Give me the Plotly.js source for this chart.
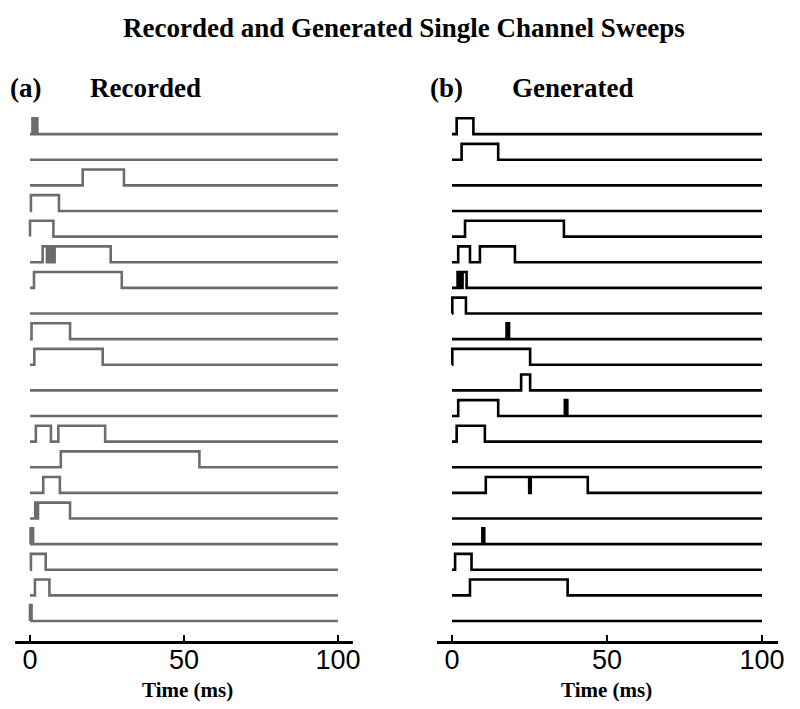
<!DOCTYPE html>
<html>
<head>
<meta charset="utf-8">
<script src="https://cdn.plot.ly/plotly-3.0.1.min.js"></script>
<style>html,body{margin:0;padding:0;background:#fff}#chart{width:800px;height:709px}</style>
</head>
<body>
<div id="chart"></div>
<script>
// Transition times (ms) for each sweep: alternating open, close, open, close ...
const recordedEvents = [
  [0.8, 1.3, 1.6, 2.4],
  [],
  [17.1, 30.5],
  [0.3, 9.4],
  [0, 7.6],
  [4.1, 5.5, 6.0, 6.6, 7.2, 7.6, 8.0, 26.2],
  [1.3, 29.8],
  [],
  [0.5, 13.0],
  [1.4, 23.6],
  [],
  [],
  [1.9, 6.8, 9.2, 24.4],
  [10.0, 55.0],
  [4.3, 9.7],
  [1.7, 2.2, 2.6, 13.0],
  [0.2, 1.0],
  [0.3, 5.1],
  [1.6, 6.3],
  [0, 0.5]
];
const generatedEvents = [
  [1.5, 6.9],
  [3.1, 14.9],
  [],
  [],
  [4.2, 36.1],
  [2.0, 5.8, 9.0, 20.3],
  [1.8, 2.3, 2.6, 3.1, 3.4, 4.7],
  [0.1, 4.5],
  [17.6, 18.4],
  [0.1, 25.2],
  [22.3, 25.2],
  [2.0, 14.9, 36.4, 37.2],
  [1.5, 10.6],
  [],
  [10.9, 24.9, 25.4, 43.8],
  [],
  [9.8, 10.4],
  [1.0, 6.3],
  [5.8, 37.3],
  []
];
const sweepStart = 0;
const sweepEnd = 100;
const openLevel = 0.62;
const xTicks = [0, 50, 100];
const xTickText = ['0', '50', '100'];
const panelLabels = ['(a)', '(b)'];
const panelTitles = ['Recorded', 'Generated'];
const mainTitle = 'Recorded and Generated Single Channel Sweeps';
const xTitle = 'Time (ms)';

function buildTrace(events) {
  const xs = [], ys = [];
  const n = events.length;
  events.forEach((ev, i) => {
    const base = (n - 1) - i;
    let level = base;
    xs.push(sweepStart); ys.push(base);
    ev.forEach((t, k) => {
      level = (k % 2 === 0) ? base + openLevel : base;
      xs.push(t); ys.push(level);
    });
    xs.push(sweepEnd); ys.push(level);
    xs.push(null); ys.push(null);
  });
  return {x: xs, y: ys};
}

const rec = buildTrace(recordedEvents);
const gen = buildTrace(generatedEvents);

const traces = [
  {x: rec.x, y: rec.y, xaxis: 'x', yaxis: 'y', mode: 'lines', line: {shape: 'hv', color: '#6c6c6c', width: 2.6}, connectgaps: false, hoverinfo: 'skip'},
  {x: gen.x, y: gen.y, xaxis: 'x2', yaxis: 'y2', mode: 'lines', line: {shape: 'hv', color: '#000000', width: 2.6}, connectgaps: false, hoverinfo: 'skip'}
];

const serif = 'Liberation Serif, Times New Roman, serif';
const sans = 'Liberation Sans, Arial, sans-serif';

const xaxisBase = {
  range: [-5, 105],
  tickvals: xTicks,
  ticktext: xTickText,
  ticks: 'inside',
  ticklen: 6,
  tickwidth: 2,
  tickcolor: '#000',
  showline: true,
  linewidth: 2.5,
  linecolor: '#000',
  showgrid: false,
  zeroline: false,
  ticklabelstandoff: -7,
  tickfont: {family: sans, size: 27, color: '#000'},
  automargin: false,
  fixedrange: true
};
const yaxisBase = {
  range: [-0.78, 19.94],
  visible: false,
  fixedrange: true
};

const W = 800;
const plotTop = 110, plotBottom = 641;
function py(pix) { return (plotBottom - pix) / (plotBottom - plotTop); }
const labelFont = {family: serif, size: 27, color: '#000', weight: 'bold'};
const axTitleFont = {family: serif, size: 21, color: '#000', weight: 'bold'};

const layout = {
  width: 800,
  height: 709,
  margin: {l: 0, r: 0, t: plotTop, b: 709 - plotBottom},
  paper_bgcolor: '#fff',
  plot_bgcolor: '#fff',
  showlegend: false,
  title: {text: mainTitle, font: {family: serif, size: 27, color: '#000', weight: 'bold'}, x: 0.505, xanchor: 'center', yref: 'container', y: 1 - 28 / 709, yanchor: 'middle'},
  xaxis: Object.assign({}, xaxisBase, {domain: [14.6 / W, 353.4 / W], anchor: 'y'}),
  xaxis2: Object.assign({}, xaxisBase, {domain: [436.5 / W, 777.5 / W], anchor: 'y2'}),
  yaxis: Object.assign({}, yaxisBase, {anchor: 'x'}),
  yaxis2: Object.assign({}, yaxisBase, {anchor: 'x2'}),
  annotations: [
    {text: panelLabels[0], x: 25 / W, y: py(88), xref: 'paper', yref: 'paper', showarrow: false, xanchor: 'center', yanchor: 'middle', font: labelFont},
    {text: panelTitles[0], x: 145 / W, y: py(88), xref: 'paper', yref: 'paper', showarrow: false, xanchor: 'center', yanchor: 'middle', font: labelFont},
    {text: panelLabels[1], x: 446 / W, y: py(88), xref: 'paper', yref: 'paper', showarrow: false, xanchor: 'center', yanchor: 'middle', font: labelFont},
    {text: panelTitles[1], x: 572 / W, y: py(88), xref: 'paper', yref: 'paper', showarrow: false, xanchor: 'center', yanchor: 'middle', font: labelFont},
    {text: xTitle, x: 187 / W, y: py(690), xref: 'paper', yref: 'paper', showarrow: false, xanchor: 'center', yanchor: 'middle', font: axTitleFont},
    {text: xTitle, x: 606 / W, y: py(690), xref: 'paper', yref: 'paper', showarrow: false, xanchor: 'center', yanchor: 'middle', font: axTitleFont}
  ]
};

Plotly.newPlot('chart', traces, layout, {displayModeBar: false, staticPlot: true});
</script>
</body>
</html>
